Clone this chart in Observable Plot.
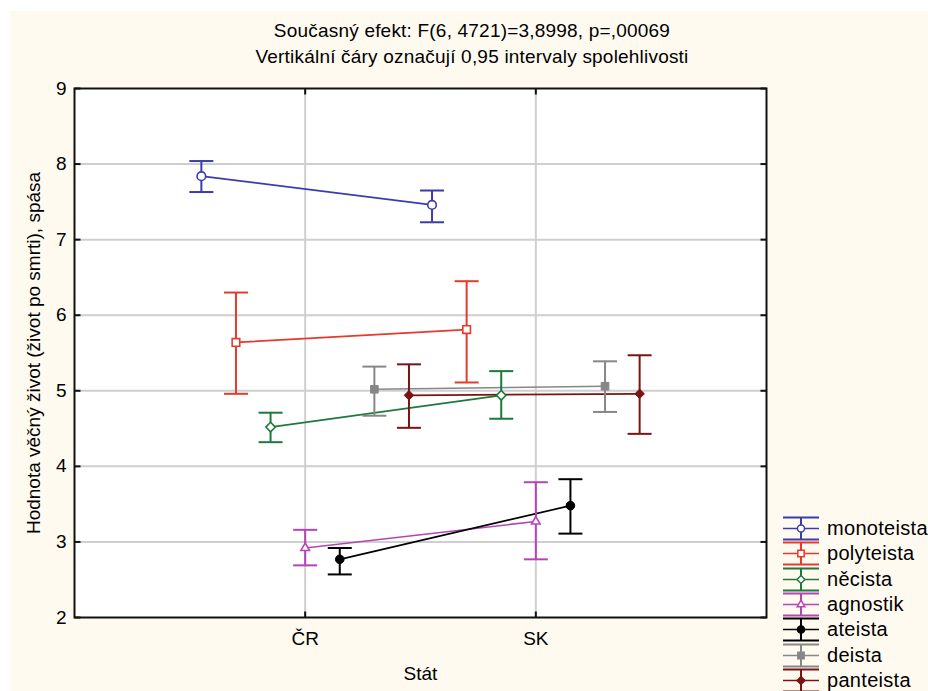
<!DOCTYPE html>
<html><head><meta charset="utf-8">
<script src="https://cdn.jsdelivr.net/npm/d3@7"></script>
<script src="https://cdn.jsdelivr.net/npm/@observablehq/plot@0.6"></script>
<style>
html,body{margin:0;padding:0;background:#fff;overflow:hidden;}
#wrap{position:relative;width:928px;height:691px;font-family:"Liberation Sans",Arial,sans-serif;color:#000;}
#cream{position:absolute;left:10px;top:11px;right:0;bottom:0;background:#fffaf0;}
.t{position:absolute;left:172px;width:600px;text-align:center;font-size:19px;line-height:19px;white-space:nowrap;letter-spacing:0.2px;}
#chart{position:absolute;left:0;top:0;}
#legend{position:absolute;left:783px;top:516px;}
.row{display:flex;align-items:center;height:25.3px;font-size:20px;letter-spacing:0.3px;white-space:nowrap;}
.row svg{margin-right:8px;display:block;overflow:visible;}
</style></head><body>
<div id="wrap"><div id="cream"></div><div id="chart"></div>
<div class="t" style="top:21px">Současný efekt: F(6, 4721)=3,8998, p=,00069</div>
<div class="t" style="top:47px">Vertikální čáry označují 0,95 intervaly spolehlivosti</div>
<div id="legend"></div></div>
<script>
// ---- data ----
const categories = ["ČR", "SK"];
const series = ["monoteista", "polyteista", "něcista", "agnostik", "ateista", "deista", "panteista"];
const meanCR = [7.84, 5.64, 4.52, 2.92, 2.77, 5.02, 4.94];
const lowCR  = [7.63, 4.96, 4.32, 2.69, 2.57, 4.67, 4.51];
const highCR = [8.04, 6.30, 4.71, 3.16, 2.92, 5.32, 5.35];
const meanSK = [7.46, 5.81, 4.94, 3.27, 3.48, 5.06, 4.96];
const lowSK  = [7.23, 5.11, 4.63, 2.77, 3.11, 4.72, 4.43];
const highSK = [7.65, 6.45, 5.26, 3.79, 3.83, 5.39, 5.47];
const yTicks = [2, 3, 4, 5, 6, 7, 8, 9];
const yLabel = "Hodnota věčný život (život po smrti), spása";
const xLabel = "Stát";

// ---- styles ----
const colors  = ["#3a3cae", "#e8392c", "#1c7a3c", "#b545b5", "#000000", "#878787", "#7a1414"];
const symbols = ["circle", "square", "diamond2", "triangle", "circle", "square", "diamond2"];
const markerR = [4.3, 4.3, 4.3, 3.2, 4.3, 4.3, 4.3];
const openMarker = [true, true, true, true, false, false, false];
const dodge = 0.15;
const fs = 19;

const rows = [];
series.forEach((s, i) => {
  const means = [meanCR[i], meanSK[i]], lows = [lowCR[i], lowSK[i]], highs = [highCR[i], highSK[i]];
  categories.forEach((c, j) => {
    rows.push({series: s, idx: i, cat: c, pos: j + 1 + (i - 3) * dodge, mean: means[j], lo: lows[j], hi: highs[j]});
  });
});

const cap = {draw(ctx) { ctx.moveTo(-12, 0); ctx.lineTo(12, 0); }};
const tickL = {draw(ctx) { ctx.moveTo(0, 0); ctx.lineTo(6, 0); }};
const tickR = {draw(ctx) { ctx.moveTo(0, 0); ctx.lineTo(-6, 0); }};
const tickB = {draw(ctx) { ctx.moveTo(0, 0); ctx.lineTo(0, -6); }};
const tickT = {draw(ctx) { ctx.moveTo(0, 0); ctx.lineTo(0, 6); }};
const catPos = categories.map((c, j) => j + 1);
const gridCol = "#cfcfcf";

const chart = Plot.plot({
  width: 928, height: 691,
  marginLeft: 74, marginRight: 162, marginTop: 88, marginBottom: 74,
  style: {background: "transparent", fontFamily: "'Liberation Sans', Arial, sans-serif", fontSize: fs + "px", color: "#000"},
  x: {domain: [0, 3]},
  y: {domain: [2, 9]},
  r: {type: "identity"},
  color: {domain: series, range: colors},
  symbol: {domain: series, range: symbols},
  marks: [
    Plot.frame({fill: "white"}),
    Plot.gridY([3, 4, 5, 6, 7, 8], {stroke: gridCol, strokeOpacity: 1, strokeWidth: 2}),
    Plot.gridX(catPos, {stroke: gridCol, strokeOpacity: 1, strokeWidth: 2}),
    Plot.axisY(yTicks, {tickSize: 0, tickPadding: 8, fontSize: fs, label: null, tickFormat: d => String(d)}),
    Plot.axisX(catPos, {tickSize: 0, tickPadding: 14, fontSize: fs, label: null, tickFormat: d => categories[d - 1]}),
    Plot.text([yLabel], {frameAnchor: "left", textAnchor: "middle", dx: -41, rotate: -90, fontSize: fs}),
    Plot.text([xLabel], {frameAnchor: "bottom", dy: 62, fontSize: fs}),
    Plot.line(rows, {x: "pos", y: "mean", z: "series", stroke: "series", strokeWidth: 1.7}),
    Plot.ruleX(rows, {x: "pos", y1: "lo", y2: "hi", stroke: "series", strokeWidth: 2}),
    Plot.dot(rows, {x: "pos", y: "lo", symbol: cap, stroke: "series", fill: "none", strokeWidth: 2}),
    Plot.dot(rows, {x: "pos", y: "hi", symbol: cap, stroke: "series", fill: "none", strokeWidth: 2}),
    Plot.dot(rows.filter(d => openMarker[d.idx]), {x: "pos", y: "mean", symbol: "series", stroke: "series", fill: "white", r: d => markerR[d.idx], strokeWidth: 1.6}),
    Plot.dot(rows.filter(d => !openMarker[d.idx]), {x: "pos", y: "mean", symbol: "series", stroke: "series", fill: "series", r: d => markerR[d.idx], strokeWidth: 1}),
    Plot.frame({stroke: "#111", strokeWidth: 2}),
    Plot.dot(yTicks, {y: d => d, frameAnchor: "left", symbol: tickL, stroke: "#111", strokeWidth: 2}),
    Plot.dot(yTicks, {y: d => d, frameAnchor: "right", symbol: tickR, stroke: "#111", strokeWidth: 2}),
    Plot.dot(catPos, {x: d => d, frameAnchor: "bottom", symbol: tickB, stroke: "#111", strokeWidth: 2}),
    Plot.dot(catPos, {x: d => d, frameAnchor: "top", symbol: tickT, stroke: "#111", strokeWidth: 2})
  ]
});
document.getElementById("chart").appendChild(chart);

// ---- legend ----
const symMap = {circle: d3.symbolCircle, square: d3.symbolSquare, diamond2: d3.symbolDiamond2, triangle: d3.symbolTriangle};
const legend = d3.select("#legend");
series.forEach((s, i) => {
  const row = legend.append("div").attr("class", "row");
  const svg = row.append("svg").attr("width", 36).attr("height", 25);
  const g = svg.append("g").attr("stroke", colors[i]).attr("fill", "none");
  g.append("line").attr("x1", 0).attr("x2", 36).attr("y1", 1.5).attr("y2", 1.5).attr("stroke-width", 2);
  g.append("line").attr("x1", 0).attr("x2", 36).attr("y1", 23.5).attr("y2", 23.5).attr("stroke-width", 2);
  g.append("line").attr("x1", 0).attr("x2", 36).attr("y1", 12.5).attr("y2", 12.5).attr("stroke-width", 1.6);
  g.append("line").attr("x1", 18).attr("x2", 18).attr("y1", 1.5).attr("y2", 23.5).attr("stroke-width", 2);
  g.append("path").attr("transform", "translate(18,12.5)")
    .attr("d", d3.symbol(symMap[symbols[i]], symbols[i] === "triangle" ? 25 : 40)())
    .attr("fill", openMarker[i] ? "white" : colors[i]).attr("stroke-width", 1.5);
  row.append("span").text(s);
});
</script>
</body></html>
